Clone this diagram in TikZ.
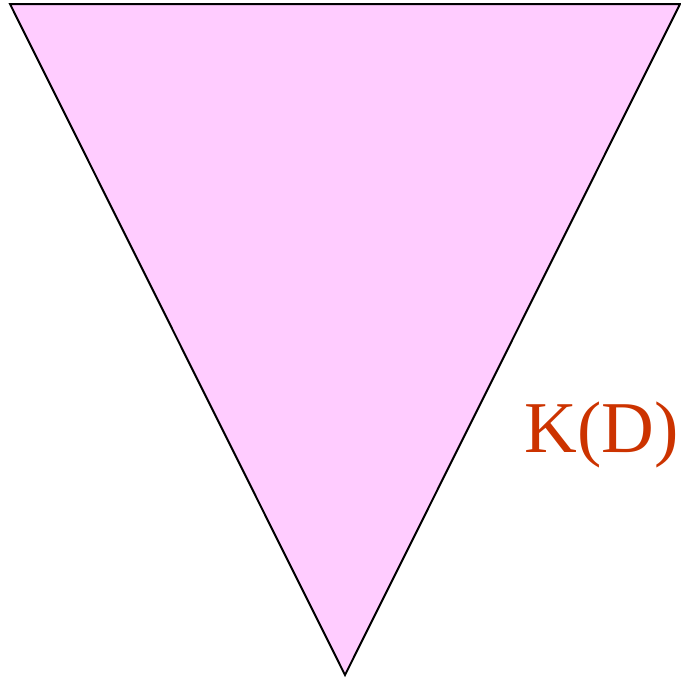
\documentclass[tikz,border=0pt]{standalone}
\usepackage{fontspec}
\setmainfont{Liberation Serif}
\definecolor{tripink}{HTML}{FFCCFF}
\definecolor{labred}{HTML}{CC3300}
\begin{document}
\begin{tikzpicture}[x=1pt,y=-1pt,
  tri/.style={fill=tripink,draw=black,line width=2pt,line join=miter},
  lab/.style={text=labred,font=\fontsize{73}{78}\selectfont,inner sep=0pt,anchor=base}]
\useasboundingbox (0,0) rectangle (681,678);
\coordinate (tl) at (10,4);
\coordinate (tr) at (680,4);
\coordinate (bt) at (345,675);
\filldraw[tri] (tl) -- (tr) -- (bt) -- cycle;
\node[lab] (k) at (602,452) {K(D)};
\end{tikzpicture}
\end{document}
